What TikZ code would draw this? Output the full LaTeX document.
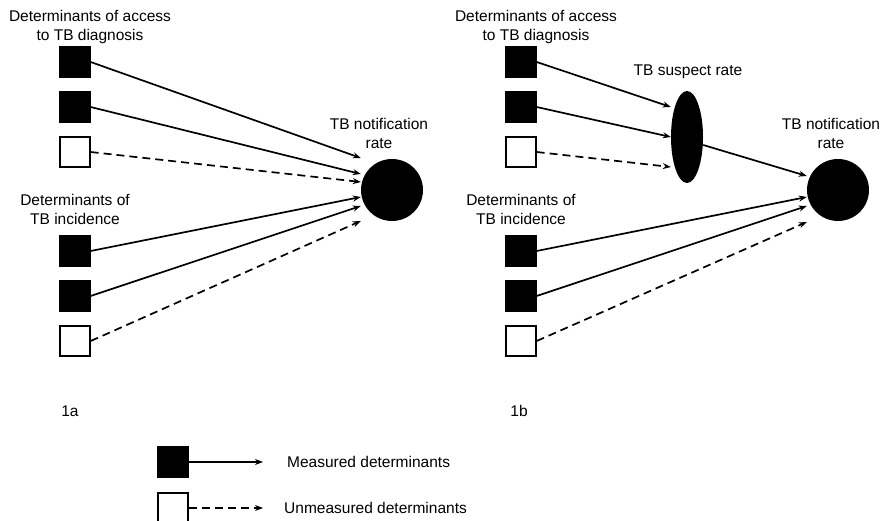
\documentclass[tikz,border=0pt]{standalone}
\usepackage{fontspec}
\setmainfont{Liberation Sans}
\usetikzlibrary{shapes.geometric,arrows.meta}

\begin{document}
\begin{tikzpicture}[
    x=1pt, y=-1pt,
    every node/.style={font=\fontsize{15.5}{19}\selectfont, inner sep=0pt},
    meas/.style={rectangle, draw, fill=black, line width=1.3pt, minimum size=30pt},
    unmeas/.style={rectangle, draw, fill=white, line width=1.3pt, minimum size=30pt},
    outcome/.style={circle, fill=black, minimum size=62pt},
    susp/.style={ellipse, fill=black, minimum width=32pt, minimum height=92pt},
    lbl/.style={align=center},
    arr1/.style={-{Stealth[length=8pt,width=6pt]}, line width=1.7pt},
    arr0/.style={arr1, dash pattern=on 8pt off 5pt}
]
\useasboundingbox (0,0) rectangle (886,521);

% panel 1a
\node[lbl] (acc-a) at (90,27) {Determinants of access\\to TB diagnosis};
\node[meas] (a1) at (75,62) {};
\node[meas] (a2) at (75,107) {};
\node[unmeas] (a3) at (75,152) {};
\node[lbl] (inc-a) at (75,209) {Determinants of\\TB incidence};
\node[meas] (a4) at (75,251) {};
\node[meas] (a5) at (75,296) {};
\node[unmeas] (a6) at (75,341) {};
\node[outcome] (na) at (392,190) {};
\node[lbl] (nlab-a) at (379,133) {TB notification\\rate};
\node (fa) at (70,411) {1a};

\coordinate (na1) at ([shift={(0,-32)}]na.west);
\coordinate (na2) at ([shift={(0,-16)}]na.west);
\coordinate (na3) at ([shift={(0,-8)}]na.west);
\coordinate (na4) at ([shift={(0,7)}]na.west);
\coordinate (na5) at ([shift={(0,16)}]na.west);
\coordinate (na6) at ([shift={(0,31)}]na.west);

\draw[arr1] (a1.east) -- (na1);
\draw[arr1] (a2.east) -- (na2);
\draw[arr0] (a3.east) -- (na3);
\draw[arr1] (a4.east) -- (na4);
\draw[arr1] (a5.east) -- (na5);
\draw[arr0] (a6.east) -- (na6);

% panel 1b
\node[lbl] (acc-b) at (536,27) {Determinants of access\\to TB diagnosis};
\node[meas] (b1) at (521,62) {};
\node[meas] (b2) at (521,107) {};
\node[unmeas] (b3) at (521,152) {};
\node[lbl] (inc-b) at (521,209) {Determinants of\\TB incidence};
\node[meas] (b4) at (521,251) {};
\node[meas] (b5) at (521,296) {};
\node[unmeas] (b6) at (521,341) {};
\node[susp] (sr) at (687,137) {};
\node (slab) at (688,72) {TB suspect rate};
\node[outcome] (nb) at (838,190) {};
\node[lbl] (nlab-b) at (831,133) {TB notification\\rate};
\node (fb) at (519,411) {1b};

\coordinate (sr1) at ([shift={(0,-30)}]sr.west);
\coordinate (sr2) at ([shift={(0,0)}]sr.west);
\coordinate (sr3) at ([shift={(0,30)}]sr.west);
\coordinate (nb1) at ([shift={(0,-14)}]nb.west);
\coordinate (nb4) at ([shift={(0,7)}]nb.west);
\coordinate (nb5) at ([shift={(0,16)}]nb.west);
\coordinate (nb6) at ([shift={(0,32)}]nb.west);

\draw[arr1] (b1.east) -- (sr1);
\draw[arr1] (b2.east) -- (sr2);
\draw[arr0] (b3.east) -- (sr3);
\draw[arr1] ([yshift=-8pt]sr.east) -- (nb1);
\draw[arr1] (b4.east) -- (nb4);
\draw[arr1] (b5.east) -- (nb5);
\draw[arr0] (b6.east) -- (nb6);

% legend
\node[meas] (lm) at (173,462) {};
\node[unmeas] (lu) at (173,508) {};
\coordinate (lm-end) at (263,462);
\coordinate (lu-end) at (263,508);
\draw[arr1, line width=1.2pt] (lm.east) -- (lm-end);
\draw[arr0, line width=1.2pt] (lu.east) -- (lu-end);
\node[anchor=west] (lmt) at (287,462) {Measured determinants};
\node[anchor=west] (lut) at (284,508) {Unmeasured determinants};
\end{tikzpicture}
\end{document}
